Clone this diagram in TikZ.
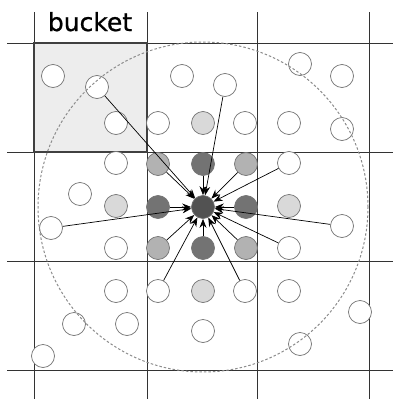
\documentclass[tikz,border=0pt]{standalone}
\usepackage{fontspec}
\newfontfamily\labelfont[FakeBold=0.8]{DejaVu Sans}
\usetikzlibrary{arrows.meta}
\begin{document}
\begin{tikzpicture}[x=1pt,y=-1pt,
  ball/.style={circle, minimum size=23pt, inner sep=0pt, draw=black!55, line width=0.7pt, fill=white},
  darkball/.style={ball, fill=black!55},
  centerball/.style={ball, fill=black!68},
  medball/.style={ball, fill=black!30},
  lightball/.style={ball, fill=black!15},
  gridline/.style={draw=black!80, line width=1pt},
  arr/.style={-{Stealth[length=9pt,width=7pt]}, line width=0.7pt, black},
  rangecircle/.style={draw=black!45, line width=1pt, dash pattern=on 2.5pt off 2pt}
]
\useasboundingbox (0,0) rectangle (393,399);
% bucket fill
\fill[black!7] (34,43) rectangle (147,152);
% grid
\foreach \gx in {34,147,257,369} \draw[gridline] (\gx,12) -- (\gx,399);
\foreach \gy in {43,152,261,370} \draw[gridline] (7,\gy) -- (393,\gy);
% bucket border
\draw[draw=black!75, line width=2.2pt] (34,43) rectangle (147,152);
\node[anchor=base, inner sep=0pt] (lbl) at (90,31) {\labelfont\fontsize{25}{25}\selectfont bucket};
% center and neighbours
\node[centerball] (c) at (203,207) {};
\node[darkball] (n1) at (203,164) {};
\node[darkball] (n2) at (158,207) {};
\node[darkball] (n3) at (246,207) {};
\node[darkball] (n4) at (203,248) {};
\node[medball] (d1) at (158,164) {};
\node[medball] (d2) at (246,164) {};
\node[medball] (d3) at (158,248) {};
\node[medball] (d4) at (246,248) {};
\node[lightball] (l1) at (203,123) {};
\node[lightball] (l2) at (116,206) {};
\node[lightball] (l3) at (289,206) {};
\node[lightball] (l4) at (203,291) {};
% white with arrows
\node[ball] (a1) at (97,87) {};
\node[ball] (a2) at (225,85) {};
\node[ball] (a3) at (289,163) {};
\node[ball] (a4) at (342,226) {};
\node[ball] (a5) at (289,248) {};
\node[ball] (a6) at (245,291) {};
\node[ball] (a7) at (158,291) {};
\node[ball] (a8) at (51,228) {};
% other white
\node[ball] (w1) at (53,76) {};
\node[ball] (w2) at (116,123) {};
\node[ball] (w3) at (158,123) {};
\node[ball] (w4) at (182,76) {};
\node[ball] (w5) at (300,64) {};
\node[ball] (w6) at (342,76) {};
\node[ball] (w7) at (245,123) {};
\node[ball] (w8) at (289,123) {};
\node[ball] (w9) at (342,129) {};
\node[ball] (w10) at (116,163) {};
\node[ball] (w11) at (80,194) {};
\node[ball] (w12) at (116,248) {};
\node[ball] (w13) at (116,291) {};
\node[ball] (w14) at (74,324) {};
\node[ball] (w15) at (127,324) {};
\node[ball] (w16) at (203,331) {};
\node[ball] (w17) at (43,356) {};
\node[ball] (w18) at (289,291) {};
\node[ball] (w19) at (300,344) {};
\node[ball] (w20) at (360,312) {};
% range circle
\draw[rangecircle] (c.center) circle[radius=165pt];
% arrows
\foreach \s in {n1,n2,n3,n4,d1,d2,d3,d4,a1,a2,a3,a4,a5,a6,a7,a8}
  \draw[arr] (\s) -- (c);
\end{tikzpicture}
\end{document}
